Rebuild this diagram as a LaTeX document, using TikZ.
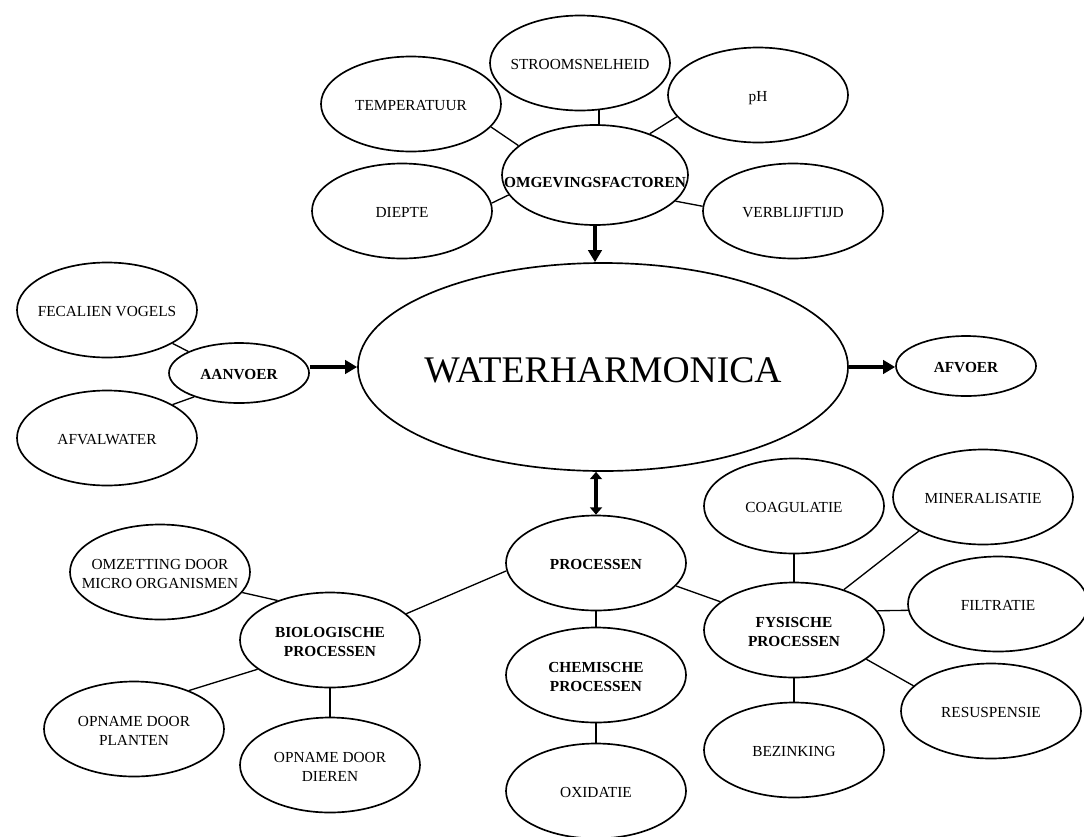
\documentclass[tikz,border=0pt]{standalone}
\usepackage{fontspec}
\setmainfont{Liberation Serif}
\usetikzlibrary{shapes.geometric,arrows.meta}
% text of a bubble: takes no room, so the ellipse keeps its fixed size
\newcommand\bubtext[2][5.3pt]{\makebox[0pt]{\raisebox{-#1}[0pt][0pt]{\begin{tabular}{@{}c@{}}#2\end{tabular}}}}

\begin{document}
\begin{tikzpicture}[x=0.75pt,y=-0.75pt,
  bub/.style={ellipse, draw, line width=1.25pt, inner sep=0pt,
    minimum width=135pt, minimum height=71.25pt,
    font=\fontsize{11.5}{14.3}\selectfont},
  keybub/.style={bub, font=\fontsize{11.5}{14.3}\selectfont\bfseries},
  smallbub/.style={keybub, minimum width=105pt, minimum height=45pt},
  link/.style={line width=1pt},
  flow/.style={line width=3.4pt, -{Triangle[length=9pt,width=10pt]}},
  twoway/.style={line width=3.4pt, {Triangle[length=5.5pt,width=9pt]}-{Triangle[length=5.5pt,width=9pt]}}
]
\useasboundingbox (0,0) rectangle (1084,836);

% centre
\node[ellipse, draw, line width=1.25pt, inner sep=0pt, minimum width=367.5pt, minimum height=156pt,
  font=\fontsize{28.2}{34}\selectfont] (water) at (603,367) {\bubtext[11.2pt]{WATERHARMONICA}};

% environmental factors
\node[bub] (stroom) at (580,63)  {\bubtext{STROOMSNELHEID}};
\node[bub] (temp)   at (411,104) {\bubtext{TEMPERATUUR}};
\node[bub] (ph)     at (758,95)  {\bubtext{pH}};
\node[keybub, minimum width=139.5pt, minimum height=75pt] (omg) at (595,175) {\bubtext[9.8pt]{OMGEVINGSFACTOREN}};
\node[bub] (diepte) at (402,211) {\bubtext{DIEPTE}};
\node[bub] (verb)   at (793,211) {\bubtext{VERBLIJFTIJD}};

% supply and discharge
\node[smallbub] (aan) at (239,373) {\bubtext{AANVOER}};
\node[smallbub] (afv) at (966,366) {\bubtext{AFVOER}};
\node[bub] (fec) at (107,310) {\bubtext{FECALIEN VOGELS}};
\node[bub] (afw) at (107,438) {\bubtext{AFVALWATER}};

% processes
\node[keybub] (proc) at (596,563) {\bubtext{PROCESSEN}};
\node[keybub] (chem) at (596,675) {\bubtext{CHEMISCHE\\PROCESSEN}};
\node[bub]    (ox)   at (596,791) {\bubtext{OXIDATIE}};
\node[keybub] (bio)  at (330,640) {\bubtext{BIOLOGISCHE\\PROCESSEN}};
\node[bub]    (omz)  at (160,572) {\bubtext{OMZETTING DOOR\\MICRO ORGANISMEN}};
\node[bub]    (pla)  at (134,729) {\bubtext{OPNAME DOOR\\PLANTEN}};
\node[bub]    (die)  at (330,765) {\bubtext{OPNAME DOOR\\DIEREN}};
\node[keybub] (fys)  at (794,630) {\bubtext{FYSISCHE\\PROCESSEN}};
\node[bub]    (coag) at (794,506) {\bubtext{COAGULATIE}};
\node[bub]    (bez)  at (794,750) {\bubtext{BEZINKING}};
\node[bub]    (min)  at (983,497) {\bubtext{MINERALISATIE}};
\node[bub]    (fil)  at (998,604) {\bubtext{FILTRATIE}};
\node[bub]    (res)  at (991,711) {\bubtext{RESUSPENSIE}};

% links of the environmental factors
\draw[link] (temp.-16.9) -- (omg.159.6);
\draw[link] (diepte.5.7) -- (omg.193.3);
\draw[link] (ph.195.2) -- (omg.37.9);
\draw[link] (verb.177.4) -- (omg.-18.9);
\draw[link] (stroom.-68.6) -- (stroom.-68.6 |- omg.north);

% links of the supply
\draw[link] (fec.-27.3) -- (aan.157.6);
\draw[link] (afw.27.6) -- (aan.208.1);

% links of the processes
\draw[link] (bio.19.3) -- (proc.185.6);
\draw[link] (proc.-16.2) -- (fys.159.3);
\draw[link] (proc.south) -- (chem.north);
\draw[link] (chem.south) -- (ox.north);
\draw[link] (omz.-14.4) -- (bio.143.1);
\draw[link] (pla.35.1) -- (bio.202);
\draw[link] (bio.south) -- (die.north);
\draw[link] (coag.south) -- (fys.north);
\draw[link] (fys.south) -- (bez.north);
\draw[link] (fys.39.2) -- (min.208.3);
\draw[link] (fys.13.2) -- (fil.184.6);
\draw[link] (fys.-22.8) -- (res.162.9);

% flows into and out of the centre
\draw[flow] (omg.south) -- (omg.south |- water.north);
\draw[flow] (aan.east |- water.west) -- (water.west);
\draw[flow] (water.east) -- (water.east -| afv.west);
\draw[twoway] (proc.north |- water.south) -- (proc.north);
\end{tikzpicture}
\end{document}
